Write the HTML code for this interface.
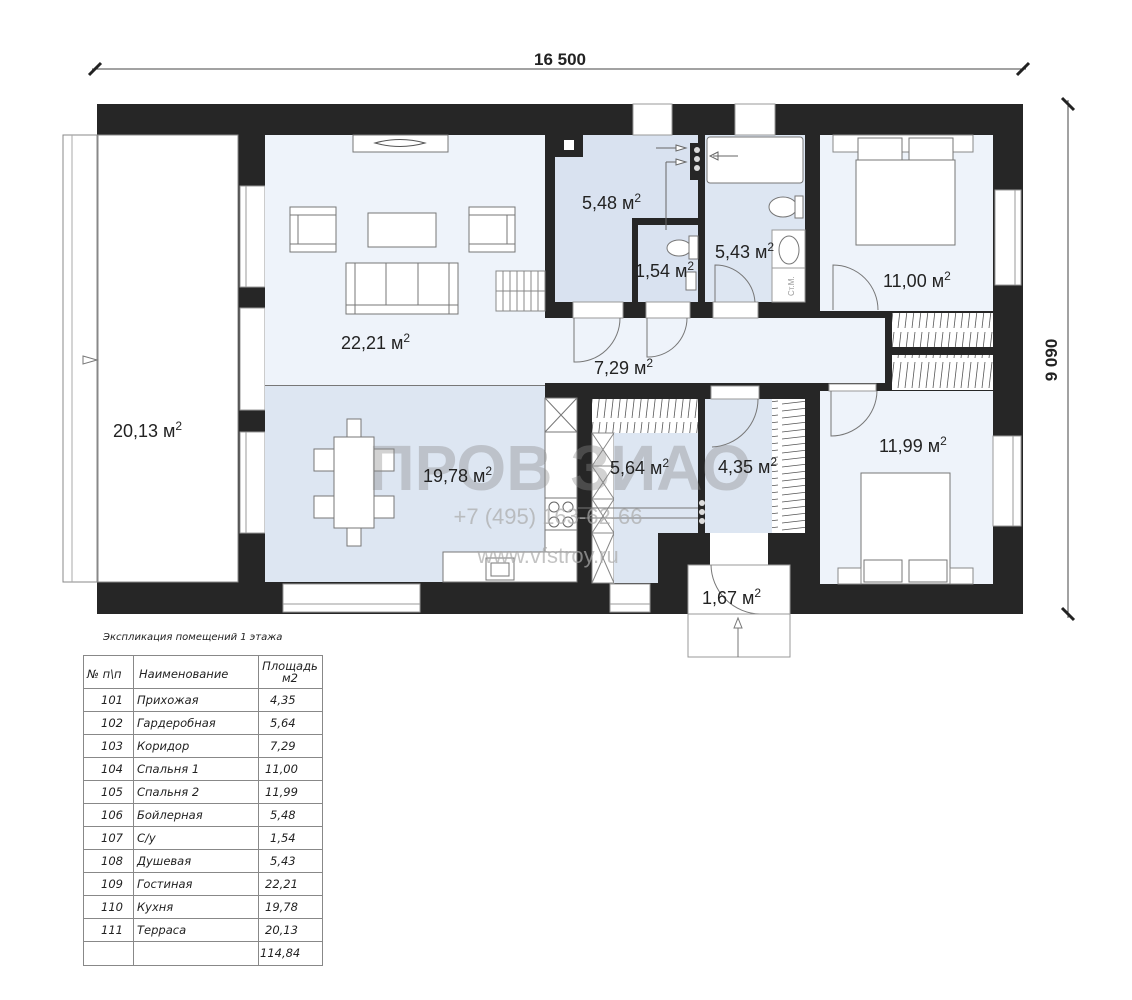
<!DOCTYPE html>
<html><head><meta charset="utf-8"><style>
html,body{margin:0;padding:0;background:#fff;}
svg{display:block;}
text{font-family:"Liberation Sans","DejaVu Sans",sans-serif;}
.rl{font-size:18px;fill:#222;}
.tb{font-size:11.5px;font-style:italic;fill:#222;font-family:"DejaVu Sans","Liberation Sans",sans-serif;}
</style></head><body>
<svg width="1132" height="1000" viewBox="0 0 1132 1000" xmlns="http://www.w3.org/2000/svg">
<defs>
<pattern id="hatch" width="7" height="30" patternUnits="userSpaceOnUse">
<line x1="5" y1="2" x2="2" y2="28" stroke="#555" stroke-width="0.8"/>
</pattern>
<pattern id="hatchv" width="30" height="7" patternUnits="userSpaceOnUse">
<line x1="2" y1="5" x2="28" y2="2" stroke="#555" stroke-width="0.8"/>
</pattern>
</defs>
<rect width="1132" height="1000" fill="#fff"/>

<line x1="92" y1="69" x2="1026" y2="69" stroke="#444" stroke-width="1"/>
<line x1="89" y1="75" x2="101" y2="63" stroke="#222" stroke-width="3"/>
<line x1="1017" y1="75" x2="1029" y2="63" stroke="#222" stroke-width="3"/>
<text x="560" y="65" font-size="17" font-weight="bold" text-anchor="middle" fill="#222">16 500</text>
<line x1="1068" y1="100" x2="1068" y2="618" stroke="#444" stroke-width="1"/>
<line x1="1062" y1="98" x2="1074" y2="110" stroke="#222" stroke-width="3"/>
<line x1="1062" y1="608" x2="1074" y2="620" stroke="#222" stroke-width="3"/>
<text transform="translate(1057,360) rotate(-90)" font-size="17" font-weight="bold" text-anchor="middle" fill="#222">9 090</text>

<rect x="97" y="104" width="926" height="510" fill="#262626"/>

<rect x="98" y="135" width="140" height="447" fill="#fff" stroke="#888" stroke-width="1"/>
<rect x="63" y="135" width="34" height="447" fill="#fff" stroke="#888" stroke-width="1"/>
<line x1="72" y1="135" x2="72" y2="582" stroke="#aaa"/>
<path d="M83 356 L97 360 L83 364 Z" fill="#fff" stroke="#777"/>

<rect x="240" y="186" width="25" height="101" fill="#fff" stroke="#999"/>
<line x1="246" y1="186" x2="246" y2="287" stroke="#999"/>
<rect x="240" y="308" width="25" height="102" fill="#fff" stroke="#999"/>
<rect x="240" y="432" width="25" height="101" fill="#fff" stroke="#999"/>
<line x1="246" y1="432" x2="246" y2="533" stroke="#999"/>
<path d="M265 312 L298 312 A34 34 0 0 1 265 346" fill="none" stroke="#777"/>

<rect x="265" y="135" width="280" height="250" fill="#eef3fa"/>
<rect x="353" y="135" width="95" height="17" fill="#fff" stroke="#777"/>
<path d="M375 143 Q400 136 425 143 Q400 150 375 143 Z" fill="none" stroke="#555"/>
<rect x="290" y="207" width="46" height="45" fill="#fff" stroke="#777"/>
<line x1="298" y1="215" x2="298" y2="244" stroke="#777"/><line x1="290" y1="215" x2="336" y2="215" stroke="#777"/><line x1="290" y1="244" x2="336" y2="244" stroke="#777"/>
<rect x="368" y="213" width="68" height="34" fill="#fff" stroke="#777"/>
<rect x="469" y="207" width="46" height="45" fill="#fff" stroke="#777"/>
<line x1="507" y1="215" x2="507" y2="244" stroke="#777"/><line x1="469" y1="215" x2="515" y2="215" stroke="#777"/><line x1="469" y1="244" x2="515" y2="244" stroke="#777"/>
<rect x="346" y="263" width="112" height="51" fill="#fff" stroke="#777"/>
<line x1="386" y1="263" x2="386" y2="305" stroke="#777"/><line x1="418" y1="263" x2="418" y2="305" stroke="#777"/>
<line x1="346" y1="305" x2="458" y2="305" stroke="#777"/><line x1="355" y1="263" x2="355" y2="314" stroke="#777"/><line x1="449" y1="263" x2="449" y2="314" stroke="#777"/>
<rect x="496" y="271" width="49" height="40" fill="#fff" stroke="#888"/>
<g stroke="#888"><line x1="503" y1="271" x2="503" y2="311"/><line x1="510" y1="271" x2="510" y2="311"/><line x1="517" y1="271" x2="517" y2="311"/><line x1="524" y1="271" x2="524" y2="311"/><line x1="531" y1="271" x2="531" y2="311"/><line x1="538" y1="271" x2="538" y2="311"/><line x1="496" y1="291" x2="545" y2="291"/></g>

<rect x="265" y="386" width="280" height="196" fill="#dde6f2"/>
<line x1="265" y1="385.5" x2="545" y2="385.5" stroke="#777"/>
<rect x="545" y="398" width="32" height="184" fill="#fff" stroke="#777"/>
<path d="M545 398 L577 432 M577 398 L545 432 M545 432 L577 432" stroke="#777" fill="none"/>
<rect x="545" y="498" width="32" height="32" fill="#fff" stroke="#777"/>
<circle cx="554" cy="507" r="5" fill="none" stroke="#666"/><circle cx="568" cy="507" r="5" fill="none" stroke="#666"/><circle cx="554" cy="522" r="5" fill="none" stroke="#666"/><circle cx="568" cy="522" r="5" fill="none" stroke="#666"/>
<rect x="443" y="552" width="134" height="30" fill="#fff" stroke="#777"/>
<rect x="486" y="558" width="28" height="22" fill="#fff" stroke="#777"/>
<rect x="491" y="563" width="18" height="13" fill="#fff" stroke="#777"/>
<rect x="347" y="419" width="14" height="18" fill="#fff" stroke="#777"/>
<rect x="347" y="528" width="14" height="18" fill="#fff" stroke="#777"/>
<rect x="314" y="449" width="20" height="22" fill="#fff" stroke="#777"/>
<rect x="374" y="449" width="20" height="22" fill="#fff" stroke="#777"/>
<rect x="314" y="496" width="20" height="22" fill="#fff" stroke="#777"/>
<rect x="374" y="496" width="20" height="22" fill="#fff" stroke="#777"/>
<rect x="334" y="437" width="40" height="91" fill="#fff" stroke="#777"/>

<rect x="283" y="584" width="137" height="28" fill="#fff" stroke="#999"/>
<line x1="283" y1="604" x2="420" y2="604" stroke="#999"/>
<rect x="610" y="584" width="40" height="28" fill="#fff" stroke="#999"/>
<line x1="610" y1="604" x2="650" y2="604" stroke="#999"/>

<path d="M583 135 L698 135 L698 302 L555 302 L555 157 L583 157 Z" fill="#d9e2f0"/>
<rect x="564" y="140" width="10" height="10" fill="#fff"/>
<rect x="632" y="218" width="6" height="84" fill="#262626"/>
<rect x="632" y="218" width="66" height="7" fill="#262626"/>
<rect x="638" y="225" width="60" height="77" fill="#d9e2f0"/>
<rect x="690" y="143" width="15" height="37" fill="#262626"/>
<circle cx="697" cy="150" r="3" fill="#ddd"/><circle cx="697" cy="159" r="3" fill="#ddd"/><circle cx="697" cy="168" r="3" fill="#ddd"/>
<path d="M656 148 L676 148 M666 162 L666 230 M666 162 L676 162" stroke="#666" fill="none"/>
<path d="M676 145 L686 148 L676 151 Z M676 159 L686 162 L676 165 Z" fill="#fff" stroke="#666"/>
<ellipse cx="679" cy="248" rx="12" ry="8" fill="#fff" stroke="#777"/>
<rect x="689" y="236" width="9" height="23" fill="#fff" stroke="#777"/>
<rect x="686" y="272" width="10" height="18" fill="#fff" stroke="#777"/>

<rect x="705" y="135" width="100" height="167" fill="#dde6f2"/>
<rect x="707" y="137" width="96" height="46" rx="3" fill="#fff" stroke="#777"/>
<path d="M738 156 L713 156 M718 152 L710 156 L718 160 Z" stroke="#666" fill="#fff"/>
<ellipse cx="783" cy="207" rx="14" ry="10" fill="#fff" stroke="#777"/>
<rect x="795" y="196" width="8" height="22" fill="#fff" stroke="#777"/>
<rect x="772" y="230" width="33" height="72" fill="#fff" stroke="#999"/>
<line x1="772" y1="268" x2="805" y2="268" stroke="#999"/>
<ellipse cx="789" cy="250" rx="10" ry="14" fill="#fff" stroke="#777"/>
<text transform="translate(794,296) rotate(-90)" font-size="8" fill="#999">Ст.М.</text>
<rect x="633" y="104" width="39" height="31" fill="#fff" stroke="#999"/>
<rect x="735" y="104" width="40" height="31" fill="#fff" stroke="#999"/>

<rect x="820" y="135" width="173" height="176" fill="#eef3fa"/>
<rect x="833" y="135" width="140" height="17" fill="#fff" stroke="#888"/>
<rect x="858" y="138" width="44" height="23" fill="#fff" stroke="#777"/>
<rect x="909" y="138" width="44" height="23" fill="#fff" stroke="#777"/>
<rect x="856" y="160" width="99" height="85" fill="#fff" stroke="#777"/>
<rect x="995" y="190" width="26" height="95" fill="#fff" stroke="#999"/>
<line x1="1015" y1="190" x2="1015" y2="285" stroke="#999"/>
<path d="M833 310 L833 265 A45 45 0 0 1 878 310" fill="none" stroke="#777"/>

<rect x="545" y="318" width="340" height="65" fill="#eef3fa"/>
<rect x="573" y="302" width="50" height="16" fill="#fff" stroke="#999"/>
<rect x="646" y="302" width="44" height="16" fill="#fff" stroke="#999"/>
<rect x="713" y="302" width="45" height="16" fill="#fff" stroke="#999"/>
<path d="M574 318 L574 362 A44 44 0 0 0 620 318" fill="none" stroke="#777"/>
<path d="M647 318 L647 357 A39 39 0 0 0 687 318" fill="none" stroke="#777"/>
<path d="M715 302 L715 265 A40 40 0 0 1 755 302" fill="none" stroke="#777"/>
<rect x="892" y="313" width="101" height="34" fill="#fff"/>
<rect x="892" y="313" width="101" height="34" fill="url(#hatch)"/>
<rect x="892" y="355" width="101" height="35" fill="#fff"/>
<rect x="892" y="355" width="101" height="35" fill="url(#hatch)"/>

<rect x="820" y="391" width="173" height="193" fill="#eef3fa"/>
<rect x="829" y="384" width="47" height="7" fill="#fff" stroke="#999"/>
<path d="M831 391 L831 436 A46 46 0 0 0 877 391" fill="none" stroke="#777"/>
<rect x="861" y="473" width="89" height="111" fill="#fff" stroke="#777"/>
<rect x="864" y="560" width="38" height="22" fill="#fff" stroke="#777"/>
<rect x="909" y="560" width="38" height="22" fill="#fff" stroke="#777"/>
<rect x="838" y="568" width="23" height="16" fill="#fff" stroke="#888"/>
<rect x="950" y="568" width="23" height="16" fill="#fff" stroke="#888"/>
<rect x="993" y="436" width="28" height="90" fill="#fff" stroke="#999"/>
<line x1="1013" y1="436" x2="1013" y2="526" stroke="#999"/>

<rect x="592" y="399" width="106" height="34" fill="#fff"/>
<rect x="592" y="399" width="106" height="34" fill="url(#hatch)"/>
<rect x="592" y="433" width="22" height="150" fill="#fff" stroke="#888"/>
<path d="M592 433 L614 466 M614 433 L592 466 M592 466 L614 499 M614 466 L592 499 M592 499 L614 533 M614 499 L592 533 M592 533 L614 583 M614 533 L592 583 M592 466 L614 466 M592 499 L614 499 M592 533 L614 533" stroke="#888" fill="none"/>
<path d="M614 433 L698 433 L698 533 L658 533 L658 583 L614 583 Z" fill="#dde6f2"/>
<rect x="698" y="497" width="8" height="37" fill="#262626"/>
<circle cx="702" cy="503" r="3" fill="#ddd"/><circle cx="702" cy="512" r="3" fill="#ddd"/><circle cx="702" cy="521" r="3" fill="#ddd"/>
<line x1="578" y1="508" x2="698" y2="508" stroke="#777"/><line x1="578" y1="518" x2="698" y2="518" stroke="#777"/>

<rect x="705" y="399" width="67" height="134" fill="#dde6f2"/>
<rect x="772" y="399" width="33" height="134" fill="#fff"/>
<rect x="772" y="399" width="33" height="134" fill="url(#hatchv)"/>
<rect x="711" y="386" width="48" height="13" fill="#fff" stroke="#999"/>
<path d="M758 399 A48 48 0 0 1 712 447" fill="none" stroke="#777"/>
<rect x="710" y="533" width="58" height="32" fill="#fff"/>
<rect x="688" y="565" width="102" height="49" fill="#fff" stroke="#999"/>
<path d="M711 565 A50 50 0 0 0 760 614" fill="none" stroke="#777"/>
<rect x="688" y="614" width="102" height="43" fill="#fff" stroke="#999"/>
<line x1="738" y1="628" x2="738" y2="657" stroke="#777"/>
<path d="M734 628 L738 618 L742 628 Z" fill="#fff" stroke="#777"/>

<text x="560" y="490" font-size="64" font-weight="bold" fill="#888" fill-opacity="0.38" text-anchor="middle">ПРОВ ЗИАО</text>
<text x="548" y="524" font-size="22" fill="#aaa" fill-opacity="0.7" text-anchor="middle">+7 (495) 163-62-66</text>
<text x="548" y="563" font-size="22" fill="#aaa" fill-opacity="0.7" text-anchor="middle">www.vfstroy.ru</text>

<text class="rl" x="341" y="349">22,21 м<tspan dy="-7" font-size="12">2</tspan></text>
<text class="rl" x="113" y="437">20,13 м<tspan dy="-7" font-size="12">2</tspan></text>
<text class="rl" x="423" y="482">19,78 м<tspan dy="-7" font-size="12">2</tspan></text>
<text class="rl" x="582" y="209">5,48 м<tspan dy="-7" font-size="12">2</tspan></text>
<text class="rl" x="635" y="277">1,54 м<tspan dy="-7" font-size="12">2</tspan></text>
<text class="rl" x="715" y="258">5,43 м<tspan dy="-7" font-size="12">2</tspan></text>
<text class="rl" x="883" y="287">11,00 м<tspan dy="-7" font-size="12">2</tspan></text>
<text class="rl" x="594" y="374">7,29 м<tspan dy="-7" font-size="12">2</tspan></text>
<text class="rl" x="610" y="474">5,64 м<tspan dy="-7" font-size="12">2</tspan></text>
<text class="rl" x="718" y="473">4,35 м<tspan dy="-7" font-size="12">2</tspan></text>
<text class="rl" x="879" y="452">11,99 м<tspan dy="-7" font-size="12">2</tspan></text>
<text class="rl" x="702" y="604">1,67 м<tspan dy="-7" font-size="12">2</tspan></text>

<text class="tb" x="103" y="640" style="font-size:10px" fill="#444">Экспликация помещений 1 этажа</text>
<g stroke="#888" stroke-width="1" fill="none">
<rect x="83.5" y="655.5" width="239" height="310"/>
<line x1="133.5" y1="655" x2="133.5" y2="966"/>
<line x1="258.5" y1="655" x2="258.5" y2="966"/>
<line x1="83" y1="688.5" x2="323" y2="688.5"/>
<line x1="83" y1="711.5" x2="323" y2="711.5"/>
<line x1="83" y1="734.5" x2="323" y2="734.5"/>
<line x1="83" y1="757.5" x2="323" y2="757.5"/>
<line x1="83" y1="780.5" x2="323" y2="780.5"/>
<line x1="83" y1="803.5" x2="323" y2="803.5"/>
<line x1="83" y1="826.5" x2="323" y2="826.5"/>
<line x1="83" y1="849.5" x2="323" y2="849.5"/>
<line x1="83" y1="872.5" x2="323" y2="872.5"/>
<line x1="83" y1="895.5" x2="323" y2="895.5"/>
<line x1="83" y1="918.5" x2="323" y2="918.5"/>
<line x1="83" y1="941.5" x2="323" y2="941.5"/>
</g>
<text class="tb" x="87" y="678">№ п\п</text>
<text class="tb" x="139" y="678">Наименование</text>
<text class="tb" x="290" y="670" text-anchor="middle">Площадь</text>
<text class="tb" x="290" y="682" text-anchor="middle">м2</text>
<text class="tb" x="101" y="704">101</text><text class="tb" x="137" y="704">Прихожая</text><text class="tb" x="270" y="704">4,35</text>
<text class="tb" x="101" y="727">102</text><text class="tb" x="137" y="727">Гардеробная</text><text class="tb" x="270" y="727">5,64</text>
<text class="tb" x="101" y="750">103</text><text class="tb" x="137" y="750">Коридор</text><text class="tb" x="270" y="750">7,29</text>
<text class="tb" x="101" y="773">104</text><text class="tb" x="137" y="773">Спальня 1</text><text class="tb" x="265" y="773">11,00</text>
<text class="tb" x="101" y="796">105</text><text class="tb" x="137" y="796">Спальня 2</text><text class="tb" x="265" y="796">11,99</text>
<text class="tb" x="101" y="819">106</text><text class="tb" x="137" y="819">Бойлерная</text><text class="tb" x="270" y="819">5,48</text>
<text class="tb" x="101" y="842">107</text><text class="tb" x="137" y="842">С/у</text><text class="tb" x="270" y="842">1,54</text>
<text class="tb" x="101" y="865">108</text><text class="tb" x="137" y="865">Душевая</text><text class="tb" x="270" y="865">5,43</text>
<text class="tb" x="101" y="888">109</text><text class="tb" x="137" y="888">Гостиная</text><text class="tb" x="265" y="888">22,21</text>
<text class="tb" x="101" y="911">110</text><text class="tb" x="137" y="911">Кухня</text><text class="tb" x="265" y="911">19,78</text>
<text class="tb" x="101" y="934">111</text><text class="tb" x="137" y="934">Терраса</text><text class="tb" x="265" y="934">20,13</text>
<text class="tb" x="260" y="957">114,84</text>
</svg>
</body></html>
